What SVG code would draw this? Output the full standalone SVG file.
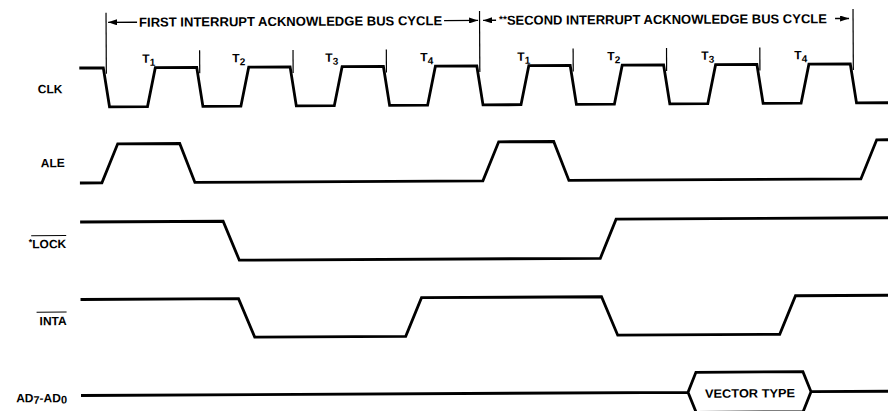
<svg xmlns="http://www.w3.org/2000/svg" width="888" height="411" viewBox="0 0 888 411">
<defs>
<style>
.wave{fill:none;stroke:#000;stroke-width:2.8;stroke-linejoin:miter}
.mk{stroke:#000;stroke-width:1.2}
.ar{stroke:#000;stroke-width:1.4}
.lbl{font-family:"Liberation Sans",Arial,sans-serif;font-weight:bold;font-size:12px;fill:#000}
.hdr{font-family:"Liberation Sans",Arial,sans-serif;font-weight:bold;font-size:13px;fill:#000}
.ov{stroke:#000;stroke-width:1.1}
</style>
<marker id="arr" markerWidth="9" markerHeight="6" refX="9" refY="3" orient="auto" markerUnits="userSpaceOnUse">
<path d="M0,0 L9,3 L0,6 z" fill="#000"/>
</marker>
</defs>
<rect width="888" height="411" fill="#fff"/>
<g transform="rotate(-0.3 80 200)">
<g id="header">
<line class="ar" x1="138" y1="22.5" x2="109" y2="22.5" marker-end="url(#arr)"/>
<text class="hdr" x="140" y="27" textLength="303" lengthAdjust="spacingAndGlyphs">FIRST INTERRUPT ACKNOWLEDGE BUS CYCLE</text>
<line class="ar" x1="445" y1="22.5" x2="479" y2="22.5" marker-end="url(#arr)"/>
<line class="ar" x1="497" y1="22.5" x2="484" y2="22.5" marker-end="url(#arr)"/>
<text class="hdr" x="500" y="27"><tspan font-size="10" dy="-2">**</tspan><tspan dy="2" textLength="320" lengthAdjust="spacingAndGlyphs">SECOND INTERRUPT ACKNOWLEDGE BUS CYCLE</tspan></text>
<line class="ar" x1="836" y1="22.5" x2="850" y2="22.5" marker-end="url(#arr)"/>
</g>
<g id="cycle-markers">
<line class="mk" x1="107" y1="13" x2="107" y2="74"/>
<line class="mk" x1="200.4" y1="51" x2="200.4" y2="74"/>
<line class="mk" x1="293.8" y1="51" x2="293.8" y2="74"/>
<line class="mk" x1="387.1" y1="51" x2="387.1" y2="74"/>
<line class="mk" x1="480.5" y1="13" x2="480.5" y2="74"/>
<line class="mk" x1="573.9" y1="51" x2="573.9" y2="74"/>
<line class="mk" x1="667.3" y1="51" x2="667.3" y2="74"/>
<line class="mk" x1="760.6" y1="51" x2="760.6" y2="74"/>
<line class="mk" x1="854" y1="13" x2="854" y2="74"/>
</g>
<g id="t-states" class="lbl">
<text x="143" y="63">T<tspan font-size="10" dy="3">1</tspan></text>
<text x="233" y="63">T<tspan font-size="10" dy="3">2</tspan></text>
<text x="326" y="63">T<tspan font-size="10" dy="3">3</tspan></text>
<text x="421" y="63">T<tspan font-size="10" dy="3">4</tspan></text>
<text x="518" y="63">T<tspan font-size="10" dy="3">1</tspan></text>
<text x="608" y="63">T<tspan font-size="10" dy="3">2</tspan></text>
<text x="702" y="63">T<tspan font-size="10" dy="3">3</tspan></text>
<text x="795" y="63">T<tspan font-size="10" dy="3">4</tspan></text>
</g>
<g id="sig-clk">
<text class="lbl" x="63" y="93" text-anchor="end">CLK</text>
<path class="wave" d="M80 68 H104 L110 107 H148 L156 68 H197.4 L203.4 107 H241.4 L249.4 68 H290.8 L296.8 107 H334.8 L342.8 68 H384.1 L390.1 107 H428.1 L436.1 68 H477.5 L483.5 107 H521.5 L529.5 68 H570.9 L576.9 107 H614.9 L622.9 68 H664.3 L670.3 107 H708.3 L716.3 68 H757.6 L763.6 107 H801.6 L809.6 68 H851 L857 107 H890"/>
</g>
<g id="sig-ale">
<text class="lbl" x="65" y="167" text-anchor="end">ALE</text>
<path class="wave" d="M80 183 H102 L118 144 H180 L195 183 H483 L499 144 H554 L569 183 H861 L877 144 H890"/>
</g>
<g id="sig-lock">
<text class="lbl" x="66" y="248" text-anchor="end"><tspan font-size="9" dy="-3">*</tspan><tspan dy="3">LOCK</tspan></text>
<line class="ov" x1="31" y1="235.5" x2="66" y2="235.5"/>
<path class="wave" d="M80 222 H223 L239 261 H600 L616 222 H890"/>
</g>
<g id="sig-inta">
<text class="lbl" x="66" y="325" text-anchor="end">INTA</text>
<line class="ov" x1="36" y1="312" x2="66" y2="312"/>
<path class="wave" d="M80 299.5 H238 L254 338 H405 L421 299.5 H601 L617 338 H779 L795 299.5 H890"/>
</g>
<g id="sig-ad">
<text class="lbl" x="66" y="402" text-anchor="end">AD<tspan font-size="11" dy="1.5">7</tspan><tspan dy="-1.5">-AD</tspan><tspan font-size="11" dy="1.5">0</tspan></text>
<path class="wave" d="M80 395.5 H687 L695 375.5 H802 L810 395.5 H890 M687 395.5 L695 415.5 H802 L810 395.5"/>
<text class="lbl" x="749" y="401" text-anchor="middle" font-size="12.5" textLength="90" lengthAdjust="spacingAndGlyphs">VECTOR TYPE</text>
</g>
</g>
</svg>
